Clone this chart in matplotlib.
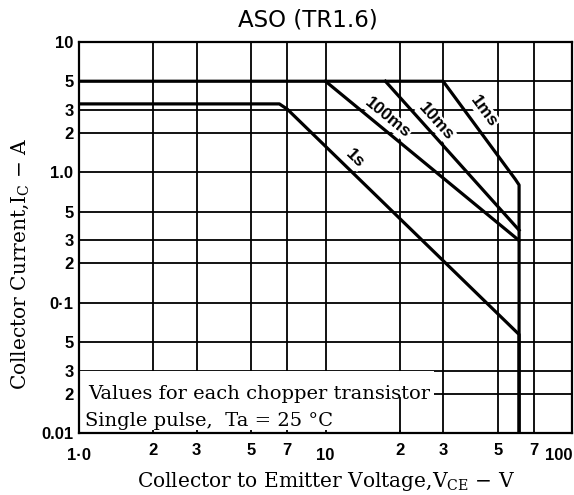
import numpy as np
import matplotlib
matplotlib.use("Agg")
import matplotlib.pyplot as plt
from matplotlib.patches import Rectangle
from matplotlib.ticker import FixedLocator, FixedFormatter, NullFormatter

# grid / tick values
x_major = [1, 10, 100]
x_major_labels = ["1\u00b70", "10", "100"]
x_minor = [2, 3, 5, 7, 20, 30, 50, 70]
x_minor_labels = ["2", "3", "5", "7", "2", "3", "5", "7"]
y_ticks = [0.01, 0.02, 0.03, 0.05, 0.1, 0.2, 0.3, 0.5, 1, 2, 3, 5, 10]
y_labels = ["0.01", "2", "3", "5", "0\u00b71", "2", "3", "5", "1.0", "2", "3", "5", "10"]

# safe operating area curves (V_CE in V, I_C in A)
v_1ms = [1.0, 30, 59, 61, 61]
i_1ms = [5.0, 5.0, 0.88, 0.80, 0.01]
v_10ms = [17.5, 61]
i_10ms = [5.0, 0.36]
v_100ms = [10, 61]
i_100ms = [5.0, 0.30]
v_1s = [1.0, 6.5, 7.0, 61, 61]
i_1s = [3.35, 3.35, 3.05, 0.057, 0.01]

# curve labels: text, position
curve_labels = ["1s", "100ms", "10ms", "1ms"]
label_v = [13.2, 17.8, 28.0, 44.0]
label_i = [1.27, 2.62, 2.45, 2.95]
label_lines = [(v_1s[2:4], i_1s[2:4]), (v_100ms, i_100ms),
               (v_10ms, i_10ms), (v_1ms[1:3], i_1ms[1:3])]

fig = plt.figure(figsize=(5.74, 4.95), dpi=100)
ax = fig.add_axes([79 / 574, 1 - 433 / 495, (572 - 79) / 574, (433 - 42) / 495])
ax.set_xscale("log")
ax.set_yscale("log")
ax.set_xlim(1, 100)
ax.set_ylim(0.01, 10)

ax.xaxis.set_major_locator(FixedLocator(x_major))
ax.xaxis.set_major_formatter(FixedFormatter(x_major_labels))
ax.xaxis.set_minor_locator(FixedLocator(x_minor))
ax.xaxis.set_minor_formatter(FixedFormatter(x_minor_labels))
ax.yaxis.set_major_locator(FixedLocator(y_ticks))
ax.yaxis.set_major_formatter(FixedFormatter(y_labels))
ax.yaxis.set_minor_locator(FixedLocator([]))
ax.yaxis.set_minor_formatter(NullFormatter())

ax.tick_params(axis="x", which="major", length=0, pad=11)
ax.tick_params(axis="x", which="minor", length=0, pad=7)
ax.tick_params(axis="y", which="both", length=0, pad=4)
for lab in ax.get_xticklabels(which="both") + ax.get_yticklabels():
    lab.set_fontfamily("Liberation Sans")
    lab.set_fontweight("bold")
    lab.set_fontsize(12)
ax.get_xticklabels()[-1].set_ha("right")

ax.grid(True, which="both", color="black", linewidth=1.3)
for s in ax.spines.values():
    s.set_linewidth(1.6)

lw = 2.3
ax.plot(v_1ms, i_1ms, color="black", lw=lw, zorder=3)
ax.plot(v_10ms, i_10ms, color="black", lw=lw, zorder=3)
ax.plot(v_100ms, i_100ms, color="black", lw=lw, zorder=3)
ax.plot(v_1s, i_1s, color="black", lw=lw, zorder=3)

fig.canvas.draw()
for txt, xv, yv, (lx, ly) in zip(curve_labels, label_v, label_i, label_lines):
    p0 = ax.transData.transform((lx[0], ly[0]))
    p1 = ax.transData.transform((lx[1], ly[1]))
    ang = np.degrees(np.arctan2(p1[1] - p0[1], p1[0] - p0[0]))
    ax.text(xv, yv, txt, rotation=ang, rotation_mode="anchor",
            ha="center", va="center", fontsize=12.5, fontweight="bold",
            family="Liberation Sans", zorder=2.8,
            bbox=dict(facecolor="white", edgecolor="none", pad=0.5))

# note box in the lower left corner
ax.add_patch(Rectangle((1.0, 0.0106), 26.5, 0.0194, facecolor="white",
                       edgecolor="none", zorder=2.5))
ax.plot([20, 20], [0.0101, 0.0185], color="black", lw=1.3, zorder=2.6)
ax.text(1.085, 0.0200, "Values for each chopper transistor", fontsize=14,
        family="DejaVu Serif", va="center", ha="left", zorder=4)
ax.text(1.055, 0.0123, "Single pulse,  Ta = 25 \u00b0C", fontsize=14,
        family="DejaVu Serif", va="center", ha="left", zorder=4)

plt.rcParams["mathtext.fontset"] = "dejavuserif"
fig.text(0.537, 0.96, "ASO (TR1.6)", ha="center", va="center",
         fontsize=16.5, family="DejaVu Sans")
fig.text(0.568, 0.028, r"Collector to Emitter Voltage,V$_{\rm CE}$ $-$ V",
         ha="center", va="center", fontsize=14.5, family="DejaVu Serif")
fig.text(0.036, 0.467, r"Collector Current,I$_{\rm C}$ $-$ A", rotation=90,
         ha="center", va="center", fontsize=14.5, family="DejaVu Serif")

fig.savefig("out.png", dpi=100, facecolor="white")
